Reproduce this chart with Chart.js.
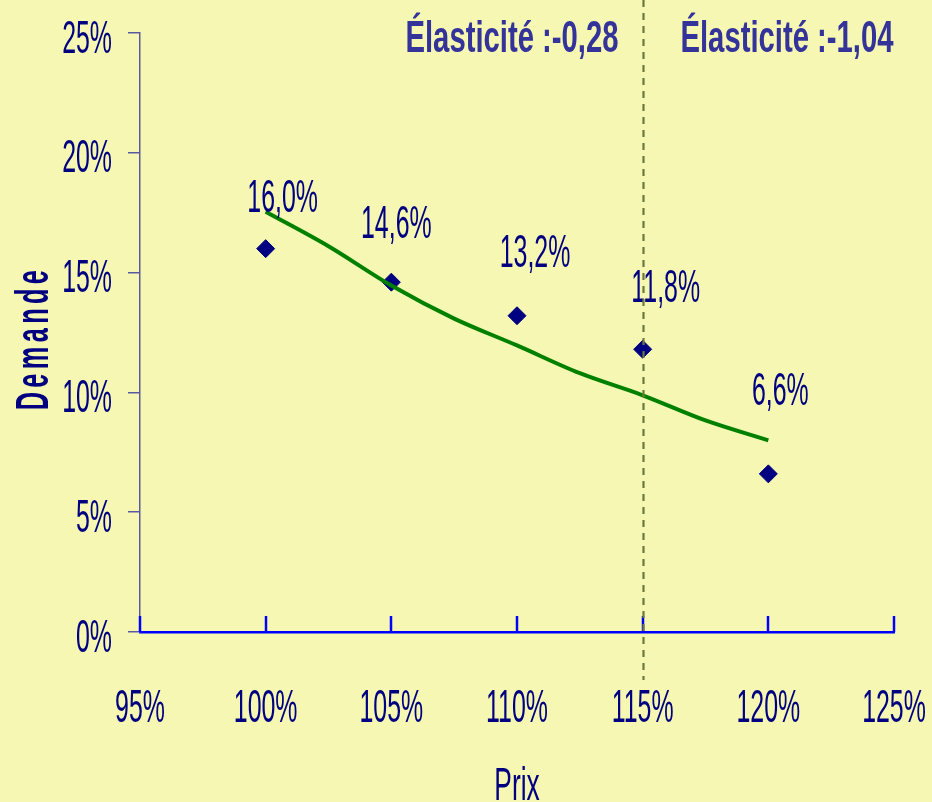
<!DOCTYPE html>
<html lang="fr">
<head>
<meta charset="utf-8">
<title>Élasticité de la demande</title>
<script src="https://cdn.jsdelivr.net/npm/chart.js@4.4.1/dist/chart.umd.min.js"></script>
<style>
  html, body { margin: 0; padding: 0; background: #f6f7b3; }
  canvas { display: block; }
</style>
</head>
<body>
<canvas id="elasticityChart" width="932" height="802"></canvas>
<script>
// prix (%) et demande observée (%)
const prices = [100, 105, 110, 115, 120];
const demand = [16.0, 14.6, 13.2, 11.8, 6.6];

// courbe de tendance
const trendPrices = [100, 102.5, 105, 107.5, 110, 112.5, 115, 117.5, 120];
const trendDemand = [17.54, 16.1, 14.46, 13.08, 11.96, 10.8, 9.88, 8.83, 8.0];

const xTickValues = [95, 100, 105, 110, 115, 120, 125];
const yTickValues = [0, 5, 10, 15, 20, 25];

const splitPrice = 115;
const elasticityTexts = ["Élasticité :-0,28", "Élasticité :-1,04"];

// styles
const NAVY = "#000080";
const TICK_FONT = '47px "Liberation Sans", Arial, sans-serif';
const labelOffsets = [[17, -37], [5, -44], [18, -49], [23, -47], [12, -69]];
const elasticityCenters = [512, 787];

function squeezed(ctx, text, x, y, o) {
    ctx.save();
    ctx.font = o.font;
    ctx.fillStyle = o.color || NAVY;
    ctx.textAlign = o.align || "center";
    ctx.textBaseline = "alphabetic";
    if (o.spacing) ctx.letterSpacing = o.spacing;
    ctx.translate(x, y);
    if (o.rotate) ctx.rotate(o.rotate);
    ctx.scale(o.sx, 1);
    ctx.fillText(text, 0, 0);
    ctx.restore();
}

const fmt = v => v.toFixed(1).replace(".", ",") + "%";

const decorPlugin = {
    id: "decor",
    afterDraw(chart) {
        const { ctx, chartArea: area, scales: { x, y } } = chart;

        // petites graduations de l'axe X, vers le haut
        ctx.save();
        ctx.strokeStyle = "#0000ff";
        ctx.lineWidth = 2.5;
        xTickValues.forEach(v => {
            const px = Math.round(x.getPixelForValue(v));
            ctx.beginPath();
            ctx.moveTo(px, area.bottom);
            ctx.lineTo(px, area.bottom - 16);
            ctx.stroke();
        });
        ctx.restore();

        // libellés des axes
        yTickValues.forEach(v => {
            squeezed(ctx, v + "%", area.left - 28, y.getPixelForValue(v) + 19.5,
                { font: TICK_FONT, sx: 0.53, align: "right" });
        });
        xTickValues.forEach(v => {
            squeezed(ctx, v + "%", x.getPixelForValue(v), area.bottom + 90,
                { font: TICK_FONT, sx: 0.53 });
        });
        squeezed(ctx, "Prix", (area.left + area.right) / 2, 800,
            { font: TICK_FONT, sx: 0.56 });
        squeezed(ctx, "Demande", 48, 338,
            { font: 'bold 46px "Liberation Sans", Arial, sans-serif', sx: 0.55, spacing: "8px", rotate: -Math.PI / 2 });

        // étiquettes de données
        prices.forEach((p, i) => {
            const [dx, dy] = labelOffsets[i];
            squeezed(ctx, fmt(demand[i]), x.getPixelForValue(p) + dx, y.getPixelForValue(demand[i]) + dy,
                { font: TICK_FONT, sx: 0.53 });
        });

        // ligne de séparation
        const sx = Math.round(x.getPixelForValue(splitPrice)) + 0.5;
        ctx.save();
        ctx.strokeStyle = "#6b7a3c";
        ctx.lineWidth = 2.2;
        ctx.setLineDash([7, 6]);
        ctx.beginPath();
        ctx.moveTo(sx, 0);
        ctx.lineTo(sx, area.bottom + 48);
        ctx.stroke();
        ctx.restore();

        elasticityTexts.forEach((t, i) => {
            squeezed(ctx, t, elasticityCenters[i], area.top + 19,
                { font: 'bold 44px "Liberation Sans", Arial, sans-serif', sx: 0.665, color: "#333399" });
        });
    }
};

new Chart(document.getElementById("elasticityChart"), {
    type: "scatter",
    data: {
        datasets: [
            {
                type: "line",
                data: trendPrices.map((p, i) => ({ x: p, y: trendDemand[i] })),
                borderColor: "#008000",
                borderWidth: 4,
                pointRadius: 0,
                cubicInterpolationMode: "monotone",
                fill: false,
            },
            {
                data: prices.map((p, i) => ({ x: p, y: demand[i] })),
                pointStyle: "rectRot",
                pointRadius: 9,
                backgroundColor: NAVY,
                borderColor: NAVY,
                borderWidth: 1,
            },
        ],
    },
    options: {
        responsive: false,
        devicePixelRatio: 1,
        animation: false,
        layout: { padding: { top: 33, right: 38, left: 0, bottom: 0 } },
        plugins: { legend: { display: false }, tooltip: { enabled: false } },
        scales: {
            x: {
                type: "linear",
                min: 95,
                max: 125,
                afterBuildTicks: s => { s.ticks = xTickValues.map(v => ({ value: v })); },
                afterFit: s => { s.height = 170; },
                ticks: { display: false },
                grid: { display: false },
                border: { color: "#0000ff", width: 2.5 },
            },
            y: {
                min: 0,
                max: 25,
                afterBuildTicks: s => { s.ticks = yTickValues.map(v => ({ value: v })); },
                afterFit: s => { s.width = 140; },
                ticks: { display: false },
                grid: { drawOnChartArea: false, drawTicks: true, tickLength: 12, color: "#5a5aa0", lineWidth: 1.5 },
                border: { color: "#5a5aa0", width: 1.5 },
            },
        },
    },
    plugins: [decorPlugin],
});
</script>
</body>
</html>
